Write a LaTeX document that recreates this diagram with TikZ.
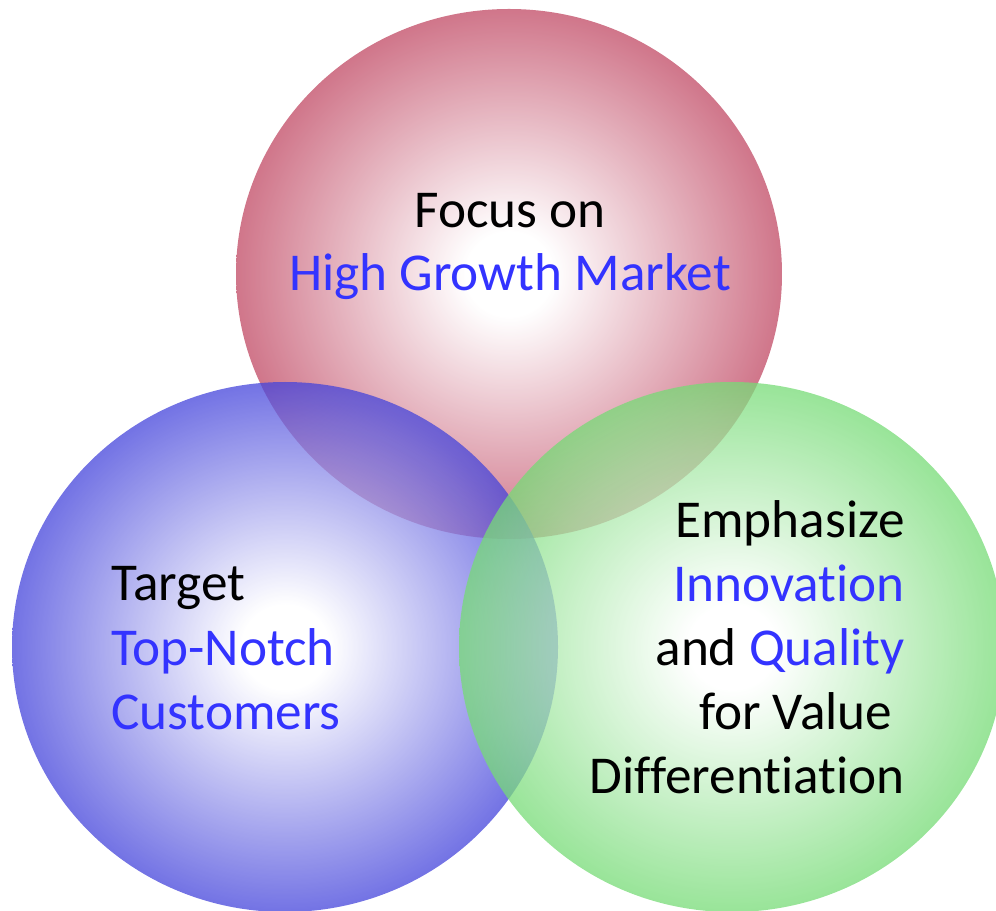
\documentclass[tikz,border=0pt]{standalone}
\usepackage{fontspec}
\setmainfont[Ligatures=NoCommon]{Carlito}
\usepackage{tikz}
\usetikzlibrary{positioning}
\definecolor{vennRed}{RGB}{192,72,99}
\definecolor{vennBlue}{RGB}{68,68,219}
\definecolor{vennGreen}{RGB}{118,219,118}
\definecolor{keyBlue}{RGB}{51,51,255}
\colorlet{vennEdge}{vennRed}
\pgfdeclareradialshading[vennEdge]{bubbleshade}{\pgfpoint{0bp}{0bp}}{%
  color(0bp)=(white); color(4bp)=(white); color(25bp)=(vennEdge); color(50bp)=(vennEdge)}
\tikzset{bubble/.style={/utils/exec={\colorlet{vennEdge}{#1}}, shading=bubbleshade, fill opacity=0.75}}

\begin{document}
\begin{tikzpicture}[x=0.02cm, y=-0.02cm, font=\fontsize{30.3}{36}\selectfont]
\useasboundingbox (0,0) rectangle (996,911);
% ---------- the three circles ----------
\shade[bubble=vennRed]   (509,274) ellipse [x radius=273, y radius=265];
\shade[bubble=vennBlue]  (285,647) ellipse [x radius=273, y radius=265];
\shade[bubble=vennGreen] (732,647) ellipse [x radius=273, y radius=265];
% ---------- top: market ----------
\node[anchor=base] (focus) at (510,228) {Focus on};
\node[anchor=base, keyBlue] (market) at (510,291) {High Growth Market};
% ---------- left: customers ----------
\node[anchor=base west, inner sep=0pt] (target) at (111,600) {Target};
\node[anchor=base west, inner sep=0pt, keyBlue] (topnotch) at (111,665) {Top-Notch};
\node[anchor=base west, inner sep=0pt, keyBlue] (customers) at (111,729) {Customers};
% ---------- right: value ----------
\node[anchor=base east, inner sep=0pt] (emphasize) at (905,537) {Emphasize};
\node[anchor=base east, inner sep=0pt, keyBlue] (innovation) at (905,601) {Innovation};
\node[anchor=base east, inner sep=0pt] (quality) at (905,665) {and \textcolor{keyBlue}{Quality}};
\node[anchor=base east, inner sep=0pt] (value) at (905,729) {for Value\hspace*{0.23em}};
\node[anchor=base east, inner sep=0pt] (differ) at (905,793) {Differentiation};
\end{tikzpicture}
\end{document}
